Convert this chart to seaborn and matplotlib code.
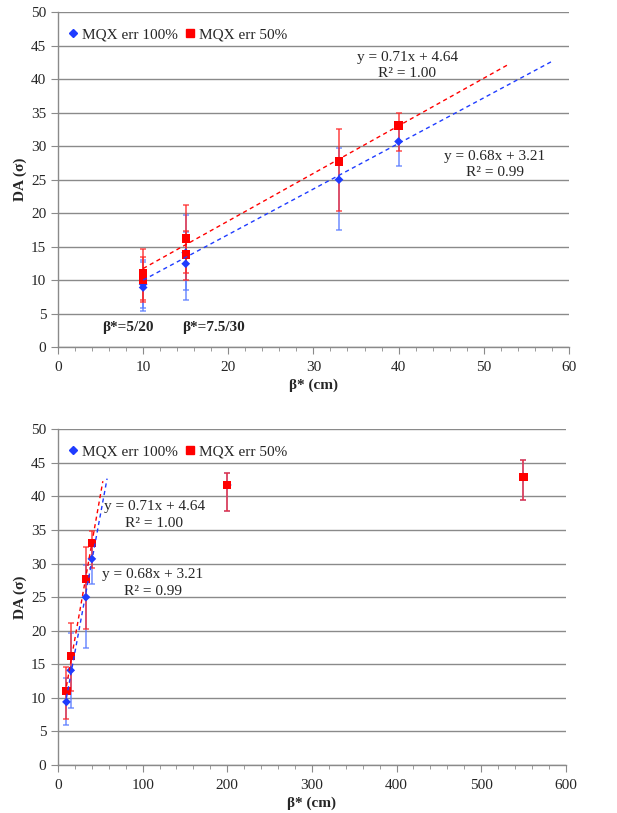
import numpy as np
import pandas as pd
import matplotlib
matplotlib.use("Agg")
import matplotlib.pyplot as plt
import seaborn as sns

# ---- data ----
series = ["MQX err 100%", "MQX err 50%"]

# points visible in both panels
beta_main = [10, 15, 33, 40]
da100_main = [9.4, 14.1, 25.0, 30.7]
da100_lo = [3.5, 5.6, 7.5, 3.7]
da100_hi = [3.6, 5.6, 4.8, 2.3]
da50_main = [11.0, 16.2, 27.7, 33.1]
da50_lo = [4.2, 5.2, 7.4, 3.8]
da50_hi = [3.6, 5.0, 4.8, 1.8]

# second optics variant at the same beta*, only on the zoomed panel
beta_extra = [10, 15]
da100_extra = [8.9, 12.45]
da100_extra_lo = [3.5, 5.45]
da100_extra_hi = [3.8, 4.8]
da50_extra = [10.1, 13.85]
da50_extra_lo = [3.1, 3.85]
da50_extra_hi = [3.4, 3.45]

# large beta* points, only on the full panel
beta_far = [200, 550]
da_far = [41.7, 42.9]
da_far_lo = [3.8, 3.4]
da_far_hi = [1.8, 2.5]

# linear trend lines (slope, intercept, x range) as printed on the chart
fit_slope = [0.68, 0.71]
fit_icpt = [3.21, 4.64]
fit_xmax = [58, 53]
fit_text = ["y = 0.68x + 3.21\nR\u00b2 = 0.99", "y = 0.71x + 4.64\nR\u00b2 = 1.00"]

colors = ["#1f3cff", "#ff0000"]
bar_colors = ["#5b7dff", "#ff2a2a"]
markers = ["D", "s"]
sizes = [20, 36]

sns.set_style("white")
plt.rcParams["font.family"] = ["Liberation Serif", "DejaVu Serif"]
plt.rcParams["font.size"] = 11

fig = plt.figure(figsize=(6.17, 8.13), dpi=100)
ax_top = fig.add_axes([0.094, 0.573, 0.828, 0.412])
ax_bot = fig.add_axes([0.094, 0.059, 0.823, 0.413])


def panel_frame(top):
    rows = []
    xs = beta_main + (beta_extra if top else beta_far)
    blue = [da100_main, da100_extra if top else da_far]
    red = [da50_main, da50_extra if top else da_far]
    blo = [da100_lo, da100_extra_lo if top else da_far_lo]
    bhi = [da100_hi, da100_extra_hi if top else da_far_hi]
    rlo = [da50_lo, da50_extra_lo if top else da_far_lo]
    rhi = [da50_hi, da50_extra_hi if top else da_far_hi]
    for name, vals, lo, hi in [(series[0], blue, blo, bhi), (series[1], red, rlo, rhi)]:
        y = vals[0] + vals[1]
        l = lo[0] + lo[1]
        h = hi[0] + hi[1]
        for xi, yi, li, hi_ in zip(xs, y, l, h):
            rows.append({"beta": xi, "da": yi, "lo": li, "hi": hi_, "series": name})
    return pd.DataFrame(rows)


def draw(ax, top):
    df = panel_frame(top)
    for i, name in enumerate(series):
        d = df[df["series"] == name]
        ax.errorbar(d["beta"], d["da"], yerr=[d["lo"], d["hi"]], fmt="none",
                    ecolor=bar_colors[i], elinewidth=1.3, capsize=2.5, capthick=1.2,
                    alpha=0.75, zorder=2 + i * 0.1)
    sns.scatterplot(data=df, x="beta", y="da", hue="series", style="series",
                    hue_order=series, style_order=series,
                    palette=dict(zip(series, colors)), markers=dict(zip(series, markers)),
                    size="series", sizes=dict(zip(series, sizes)),
                    edgecolor="none", linewidth=0, ax=ax, zorder=3, legend=False)
    for i in range(2):
        xx = np.array([10, fit_xmax[i]])
        ax.plot(xx, fit_slope[i] * xx + fit_icpt[i], ls=(0, (3, 2.5)), lw=1.0,
                color=colors[i], zorder=4)

    # legend
    handles = [plt.Line2D([], [], ls="none", marker=markers[i], color=colors[i],
                          markersize=[3.6, 5.2][i]) for i in range(2)]
    ax.legend(handles, series, loc="upper left", bbox_to_anchor=(-0.01, 0.995), ncol=2,
              frameon=False, handletextpad=0.2, columnspacing=0.4, handlelength=0.8,
              fontsize=11)

    ax.set_ylim(0, 50)
    ax.set_yticks(np.arange(0, 51, 5))
    ax.yaxis.grid(True, color="#8a8a8a", lw=1.0)
    ax.xaxis.grid(False)
    ax.set_axisbelow(True)
    for s in ["top", "right"]:
        ax.spines[s].set_visible(False)
    for s in ["left", "bottom"]:
        ax.spines[s].set_color("#8a8a8a")
        ax.spines[s].set_linewidth(1.0)
    ax.tick_params(axis="y", direction="out", length=5, color="#8a8a8a", left=True, labelsize=11)
    ax.tick_params(axis="x", which="major", direction="out", length=5, color="#8a8a8a",
                   bottom=True, labelsize=11, pad=5)
    ax.tick_params(axis="x", which="minor", direction="out", length=3, color="#8a8a8a", bottom=True)
    ax.set_ylabel("DA (\u03c3)", fontweight="bold", fontsize=11, labelpad=3)
    ax.set_xlabel("\u03b2* (cm)", fontweight="bold", fontsize=11, labelpad=3)


draw(ax_top, True)
ax_top.set_xlim(0, 60)
ax_top.set_xticks(np.arange(0, 61, 10))
ax_top.set_xticks(np.arange(0, 61, 2), minor=True)
ax_top.text(51.3, 28.5, fit_text[0].split("\n")[0], ha="center", va="center", fontsize=11)
ax_top.text(51.3, 26.0, fit_text[0].split("\n")[1], ha="center", va="center", fontsize=11)
ax_top.text(41.0, 43.3, fit_text[1].split("\n")[0], ha="center", va="center", fontsize=11)
ax_top.text(41.0, 40.8, fit_text[1].split("\n")[1], ha="center", va="center", fontsize=11)
ax_top.text(8.2, 3.0, "\u03b2*=5/20", ha="center", va="center", fontsize=11, fontweight="bold")
ax_top.text(18.3, 3.0, "\u03b2*=7.5/30", ha="center", va="center", fontsize=11, fontweight="bold")

draw(ax_bot, False)
ax_bot.set_xlim(0, 600)
ax_bot.set_xticks(np.arange(0, 601, 100))
ax_bot.set_xticks(np.arange(0, 601, 20), minor=True)
ax_bot.text(114, 38.5, fit_text[1].split("\n")[0], ha="center", va="center", fontsize=11)
ax_bot.text(114, 36.0, fit_text[1].split("\n")[1], ha="center", va="center", fontsize=11)
ax_bot.text(112, 28.4, fit_text[0].split("\n")[0], ha="center", va="center", fontsize=11)
ax_bot.text(112, 25.9, fit_text[0].split("\n")[1], ha="center", va="center", fontsize=11)

fig.savefig("out.png", dpi=100)
plt.close(fig)
